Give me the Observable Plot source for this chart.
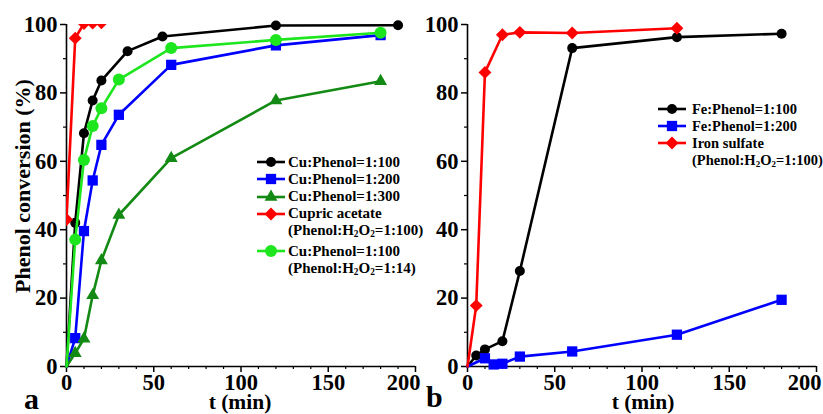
<!DOCTYPE html>
<html>
<head>
<meta charset="utf-8">
<script src="https://cdn.jsdelivr.net/npm/d3@7"></script>
<script src="https://cdn.jsdelivr.net/npm/@observablehq/plot@0.6"></script>
<style>
  html, body { margin: 0; padding: 0; background: #fff; }
  #wrap { position: relative; width: 823px; height: 414px; overflow: hidden; font-family: "Liberation Serif", "Times New Roman", serif; font-weight: bold; color: #000; }
  #wrap svg.plot { position: absolute; top: 0; }
  .lbl { position: absolute; white-space: nowrap; }
  .legend { position: absolute; white-space: nowrap; }
  .legend .row { display: flex; align-items: center; }
  .legend .row svg { flex: none; }
  .legend sub { font-size: 0.62em; vertical-align: -0.2em; line-height: 0; }
</style>
</head>
<body>
<div id="wrap"></div>
<script>
// ---------- data: panel a (Cu catalysts) ----------
const tCu100 = [0, 5, 10, 15, 20, 35, 55, 120, 190];
const vCu100 = [0, 42, 68.2, 77.8, 83.6, 92.2, 96.5, 99.7, 99.8];
const tCu200 = [0, 5, 10, 15, 20, 30, 60, 120, 180];
const vCu200 = [0, 8.3, 39.6, 54.4, 64.8, 73.6, 88.2, 93.9, 96.9];
const tCu300 = [0, 5, 10, 15, 20, 30, 60, 120, 180];
const vCu300 = [0, 3.9, 8.1, 20.8, 31.0, 44.3, 60.9, 77.8, 83.4];
const tAcetate = [0, 5, 10, 15, 20];
const vAcetate = [43, 96, 100.3, 100.4, 100.5];
const tCu100b = [0, 5, 10, 15, 20, 30, 60, 120, 180];
const vCu100b = [0, 37.1, 60.4, 70.3, 75.5, 83.9, 93.1, 95.5, 97.6];

// ---------- data: panel b (Fe catalysts) ----------
const tFe100 = [0, 5, 10, 20, 30, 60, 120, 180];
const vFe100 = [0, 3.2, 5.0, 7.4, 27.9, 93.1, 96.3, 97.3];
const tFe200 = [0, 10, 15, 20, 30, 60, 120, 180];
const vFe200 = [0, 2.4, 0.6, 0.8, 2.9, 4.4, 9.3, 19.5];
const tIron = [0, 5, 10, 20, 30, 60, 120];
const vIron = [0, 17.8, 86.0, 97.0, 97.7, 97.5, 98.9];

// ---------- labels ----------
const xTicks = [0, 50, 100, 150, 200];
const yTicks = [0, 20, 40, 60, 80, 100];
const xTitle = "t (min)";
const yTitle = "Phenol conversion (%)";
const legendA = [
  {name: "Cu:Phenol=1:100", color: "#000000", symbol: "circle", r: 5},
  {name: "Cu:Phenol=1:200", color: "#0000ff", symbol: "square", r: 5.8},
  {name: "Cu:Phenol=1:300", color: "#138a13", symbol: "triangle", r: 4.8},
  {name: "Cupric acetate", sub: "(Phenol:H<sub>2</sub>O<sub>2</sub>=1:100)", color: "#ff0000", symbol: "diamond2", r: 5.8, clip: true},
  {name: "Cu:Phenol=1:100", sub: "(Phenol:H<sub>2</sub>O<sub>2</sub>=1:14)", color: "#1ee61e", symbol: "circle", r: 6}
];
const legendB = [
  {name: "Fe:Phenol=1:100", color: "#000000", symbol: "circle", r: 5},
  {name: "Fe:Phenol=1:200", color: "#0000ff", symbol: "square", r: 5.8},
  {name: "Iron sulfate", sub: "(Phenol:H<sub>2</sub>O<sub>2</sub>=1:100)", color: "#ff0000", symbol: "diamond2", r: 5.8}
];

const seriesA = [[tCu100, vCu100], [tCu200, vCu200], [tCu300, vCu300], [tAcetate, vAcetate], [tCu100b, vCu100b]]
  .map(([t, v], i) => ({...legendA[i], data: t.map((d, j) => ({t: d, v: v[j]}))}));
const seriesB = [[tFe100, vFe100], [tFe200, vFe200], [tIron, vIron]]
  .map(([t, v], i) => ({...legendB[i], data: t.map((d, j) => ({t: d, v: v[j]}))}));

const FONT = "Liberation Serif, Times New Roman, serif";

function panel(series, width, marginLeft, marginRight) {
  const marks = [];
  const minorX = d3.range(10, 200, 10).filter(d => d % 50 !== 0);
  const minorY = d3.range(10, 100, 20);
  marks.push(
    Plot.axisX(xTicks, {tickSize: 6, tickPadding: 2, fontSize: 22.5, fontWeight: "bold", fontFamily: FONT, strokeWidth: 1.5, label: null}),
    Plot.axisX(minorX, {tickSize: 3, fill: "none", strokeWidth: 1.2, label: null}),
    Plot.axisY(yTicks, {tickSize: 6, tickPadding: 3, fontSize: 22.5, fontWeight: "bold", fontFamily: FONT, strokeWidth: 1.5, label: null}),
    Plot.axisY(minorY, {tickSize: 3, fill: "none", strokeWidth: 1.2, label: null}),
    Plot.ruleX([0], {stroke: "#000", strokeWidth: 1.6}),
    Plot.ruleY([0], {stroke: "#000", strokeWidth: 1.6})
  );
  for (const s of series) {
    // no marker is drawn at the (0, 0) starting point
    const pts = s.data.filter(d => !(d.t === 0 && d.v === 0));
    marks.push(
      Plot.line(s.data, {x: "t", y: "v", stroke: s.color, strokeWidth: 2.6, clip: !!s.clip}),
      Plot.dot(pts, {x: "t", y: "v", symbol: () => s.symbol, fill: s.color, stroke: "none", r: s.r, clip: !!s.clip})
    );
  }
  const svg = Plot.plot({
    width, height: 414,
    marginLeft, marginRight, marginTop: 24, marginBottom: 48,
    x: {domain: [0, 200], label: null, axis: null},
    y: {domain: [0, 100], label: null, axis: null},
    symbol: {type: "identity"},
    style: {background: "transparent", overflow: "visible"},
    marks
  });
  // the last x tick label sits left of its tick, as in the figure
  d3.select(svg).selectAll("text").filter(function () { return this.textContent === "200"; })
    .attr("dx", -12);
  return svg;
}

const wrap = document.getElementById("wrap");
const svgA = panel(seriesA, 420, 66, 5);
svgA.classList.add("plot");
svgA.style.left = "0px";
wrap.appendChild(svgA);
const svgB = panel(seriesB, 403, 47, 7);
svgB.classList.add("plot");
svgB.style.left = "420px";
wrap.appendChild(svgB);

function label(text, css) {
  const d = document.createElement("div");
  d.className = "lbl";
  d.textContent = text;
  Object.assign(d.style, css);
  wrap.appendChild(d);
  return d;
}
// axis titles
label(xTitle, {left: "240px", top: "393.5px", fontSize: "21.5px", lineHeight: "16px", transform: "translateX(-50%)"});
label(xTitle, {left: "643px", top: "393.5px", fontSize: "21.5px", lineHeight: "16px", transform: "translateX(-50%)"});
label(yTitle, {left: "23px", top: "186px", fontSize: "22px", lineHeight: "22px", transform: "translate(-50%,-50%) rotate(-90deg)"});
// panel letters
label("a", {left: "24px", top: "386px", fontSize: "30px", lineHeight: "26px"});
label("b", {left: "426px", top: "383px", fontSize: "30px", lineHeight: "28px"});

function swatch(item) {
  const w = 28, h = 14;
  const svg = d3.create("svg").attr("width", w).attr("height", h).style("overflow", "visible");
  svg.append("line").attr("x1", 0).attr("x2", w).attr("y1", h / 2).attr("y2", h / 2)
    .attr("stroke", item.color).attr("stroke-width", 2.6);
  const symMap = {circle: d3.symbolCircle, square: d3.symbolSquare, triangle: d3.symbolTriangle, diamond2: d3.symbolDiamond2};
  svg.append("path").attr("transform", `translate(${w / 2},${h / 2})`)
    .attr("d", d3.symbol(symMap[item.symbol], item.r * item.r * Math.PI)())
    .attr("fill", item.color);
  return svg.node();
}

function legend(items, left, top, fontSize, lineH, gap) {
  const box = document.createElement("div");
  box.className = "legend";
  Object.assign(box.style, {left: left + "px", top: top + "px", fontSize: fontSize + "px", lineHeight: lineH + "px"});
  items.forEach((it, i) => {
    const row = document.createElement("div");
    row.className = "row";
    if (i === 4) row.style.marginTop = "3px";
    const sw = swatch(it);
    sw.style.marginRight = gap + "px";
    row.appendChild(sw);
    const t = document.createElement("span");
    t.textContent = it.name;
    row.appendChild(t);
    box.appendChild(row);
    if (it.sub) {
      const r2 = document.createElement("div");
      r2.style.paddingLeft = (28 + gap) + "px";
      r2.innerHTML = it.sub;
      box.appendChild(r2);
    }
  });
  wrap.appendChild(box);
}
legend(legendA, 257, 153.5, 15, 17.2, 3);
legend(legendB, 658, 100.8, 14.5, 16.9, 6);
</script>
</body>
</html>
